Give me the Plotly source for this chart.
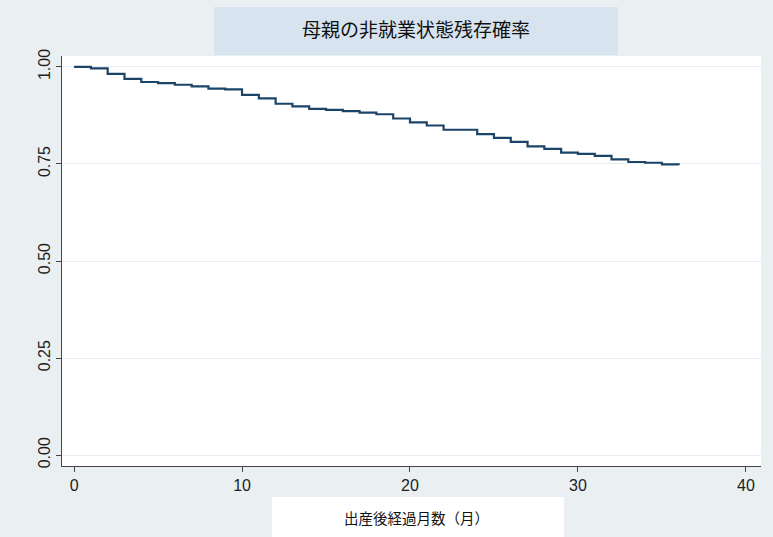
import plotly.graph_objects as go

# Kaplan-Meier estimate: months since birth vs. probability of remaining out of work
months = list(range(0, 37))
survival = [
    1.000, 0.996, 0.982, 0.969, 0.961, 0.958, 0.954, 0.950, 0.944, 0.942,
    0.928, 0.919, 0.905, 0.898, 0.892, 0.889, 0.886, 0.882, 0.878, 0.867,
    0.857, 0.849, 0.838, 0.838, 0.827, 0.817, 0.807, 0.795, 0.789, 0.779,
    0.776, 0.771, 0.762, 0.755, 0.753, 0.749, 0.747,
]
x_ticks = [0, 10, 20, 30, 40]
y_ticks = [0.00, 0.25, 0.50, 0.75, 1.00]
y_tick_text = ["0.00", "0.25", "0.50", "0.75", "1.00"]

title_text = "母親の非就業状態残存確率"
x_title_text = "出産後経過月数（月）"

W, H = 773, 537
L, R, T, B = 62, 12, 56, 71

fig = go.Figure()
fig.add_trace(go.Scatter(
    x=months, y=survival, mode="lines", line_shape="hv",
    line=dict(color="#1b4468", width=2.2), showlegend=False,
))

axis_font = dict(family="Liberation Sans, Arial, sans-serif", size=16, color="#1e1e1e")

fig.update_layout(
    width=W, height=H,
    margin=dict(l=L, r=R, t=T, b=B),
    paper_bgcolor="#eaf0f2",
    plot_bgcolor="#ffffff",
    xaxis=dict(
        range=[-0.72, 40.9], tickvals=x_ticks, ticks="outside", ticklen=5,
        tickcolor="#444", showline=True, linecolor="#444", linewidth=1,
        showgrid=False, zeroline=False, tickfont=axis_font,
    ),
    yaxis=dict(
        range=[-0.028, 1.028], tickvals=y_ticks, ticktext=y_tick_text,
        ticks="outside", ticklen=5, tickcolor="#444", tickangle=-90,
        showline=True, linecolor="#444", linewidth=1,
        showgrid=True, gridcolor="#e6ecef", gridwidth=1, zeroline=False,
        tickfont=axis_font,
    ),
    shapes=[
        dict(type="rect", xref="paper", yref="paper",
             x0=(214 - L) / (W - L - R), x1=(618 - L) / (W - L - R),
             y0=(H - B - 55) / (H - T - B), y1=(H - B - 7) / (H - T - B),
             fillcolor="#d7e3ef", line=dict(width=0), layer="below"),
        dict(type="rect", xref="paper", yref="paper",
             x0=(272 - L) / (W - L - R), x1=(564 - L) / (W - L - R),
             y0=(H - B - H) / (H - T - B), y1=(H - B - 497) / (H - T - B),
             fillcolor="#ffffff", line=dict(width=0), layer="below"),
    ],
    annotations=[
        dict(text=title_text, xref="paper", yref="paper",
             x=(416 - L) / (W - L - R), y=(H - B - 29) / (H - T - B),
             showarrow=False, xanchor="center", yanchor="middle",
             font=dict(family="Noto Sans CJK JP", size=19, color="#111")),
        dict(text=x_title_text, xref="paper", yref="paper",
             x=(416 - L) / (W - L - R), y=(H - B - 517) / (H - T - B),
             showarrow=False, xanchor="center", yanchor="middle",
             font=dict(family="Noto Sans CJK JP", size=14.5, color="#111")),
    ],
)

fig.write_html("out.html")
